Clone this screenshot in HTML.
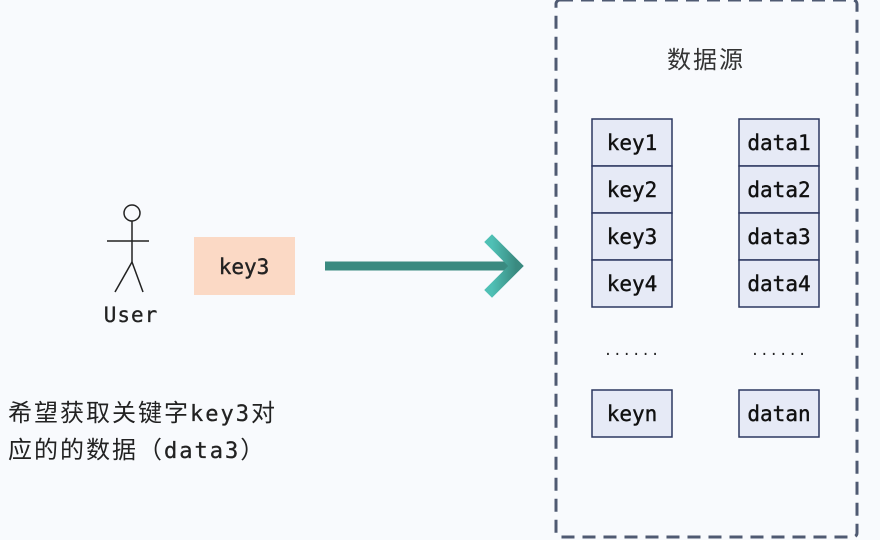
<!DOCTYPE html>
<html><head><meta charset="utf-8"><style>
body{margin:0;width:880px;height:540px;background:#f8fafd;overflow:hidden}
svg{display:block}
text{font-family:"DejaVu Sans Mono","Liberation Mono","Noto Sans CJK SC",monospace}
.c{font-family:"Liberation Sans","Noto Sans CJK SC",sans-serif}
</style></head><body>
<svg width="880" height="540" viewBox="0 0 880 540">
<defs><linearGradient id="g" x1="0" y1="0" x2="1" y2="0"><stop offset="0" stop-color="#4fc0b5"/><stop offset="1" stop-color="#3a8a80"/></linearGradient></defs>
<rect x="556" y="0" width="301" height="537" rx="4" fill="none" stroke="#4f5a72" stroke-width="3" stroke-dasharray="13,8"/>
<text x="706" y="68" text-anchor="middle" class="c" font-size="24" letter-spacing="2" fill="#333">数据源</text>
<g stroke="#2c3760" stroke-width="1.5" fill="#e6eaf6">
<rect x="592" y="119" width="80" height="47"/><rect x="592" y="166" width="80" height="47"/><rect x="592" y="213" width="80" height="47"/><rect x="592" y="260" width="80" height="47"/><rect x="592" y="390" width="80" height="47"/>
<rect x="739" y="119" width="80" height="47"/><rect x="739" y="166" width="80" height="47"/><rect x="739" y="213" width="80" height="47"/><rect x="739" y="260" width="80" height="47"/><rect x="739" y="390" width="80" height="47"/>
</g>
<g font-size="21" fill="#111" text-anchor="middle" stroke="#111" stroke-width="0.4">
<text x="632" y="150">key1</text><text x="632" y="197">key2</text><text x="632" y="244">key3</text><text x="632" y="291">key4</text><text x="632" y="421">keyn</text>
<text x="779" y="150">data1</text><text x="779" y="197">data2</text><text x="779" y="244">data3</text><text x="779" y="291">data4</text><text x="779" y="421">datan</text>
</g>
<g font-size="14" fill="#222" text-anchor="middle" letter-spacing="1">
<text x="632" y="355">......</text><text x="779" y="355">......</text>
</g>
<rect x="194" y="237" width="101" height="58" fill="#fbd9c5"/>
<text x="244" y="274" text-anchor="middle" font-size="21" fill="#222" stroke="#222" stroke-width="0.4">key3</text>
<line x1="325" y1="266" x2="515" y2="266" stroke="#3a8a80" stroke-width="9"/>
<polyline points="492,242 516,266 492,290" fill="none" stroke="url(#g)" stroke-width="11" stroke-linecap="square"/>
<g stroke="#222" stroke-width="1.5" fill="none">
<circle cx="132" cy="213" r="8"/><line x1="132" y1="221" x2="132" y2="262"/><line x1="107" y1="241" x2="149" y2="241"/><line x1="132" y1="262" x2="115" y2="292"/><line x1="132" y1="262" x2="143" y2="292"/>
</g>
<text x="131" y="322" text-anchor="middle" font-size="21" letter-spacing="1" fill="#222" stroke="#222" stroke-width="0.3">User</text>
<text x="8" y="421" font-size="24" fill="#222" class="c" letter-spacing="2">希望获取关键字<tspan font-family="DejaVu Sans Mono" font-size="22" letter-spacing="2" stroke="#222" stroke-width="0.3">key3</tspan>对</text>
<text x="8" y="458" font-size="24" fill="#222" class="c" letter-spacing="2">应的的数据（<tspan font-family="DejaVu Sans Mono" font-size="22" letter-spacing="2" stroke="#222" stroke-width="0.3">data3</tspan>）</text>
</svg>
</body></html>
